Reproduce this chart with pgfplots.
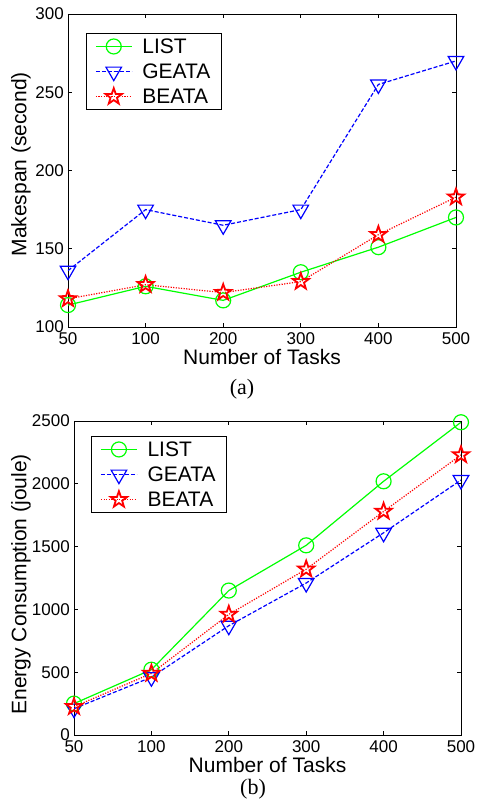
\documentclass[border=0pt]{standalone}
\usepackage{fontspec}
\setmainfont{Liberation Sans}
\newfontfamily\timesfont{Liberation Serif}
\usepackage{pgfplots}
\pgfplotsset{compat=1.18}

% MATLAB-like pentagram
\pgfdeclareplotmark{pentagram}{%
  \pgfpathmoveto{\pgfpointpolar{90}{\pgfplotmarksize}}%
  \pgfpathlineto{\pgfpointpolar{126}{0.4\pgfplotmarksize}}%
  \pgfpathlineto{\pgfpointpolar{162}{\pgfplotmarksize}}%
  \pgfpathlineto{\pgfpointpolar{198}{0.4\pgfplotmarksize}}%
  \pgfpathlineto{\pgfpointpolar{234}{\pgfplotmarksize}}%
  \pgfpathlineto{\pgfpointpolar{270}{0.4\pgfplotmarksize}}%
  \pgfpathlineto{\pgfpointpolar{306}{\pgfplotmarksize}}%
  \pgfpathlineto{\pgfpointpolar{342}{0.4\pgfplotmarksize}}%
  \pgfpathlineto{\pgfpointpolar{18}{\pgfplotmarksize}}%
  \pgfpathlineto{\pgfpointpolar{54}{0.4\pgfplotmarksize}}%
  \pgfpathclose
  \pgfusepathqstroke
}

\pgfplotsset{
  mstyle/.style={
    scale only axis,
    anchor=south west,
    xmin=0, xmax=5,
    xtick={0,1,2,3,4,5},
    xticklabels={50,100,200,300,400,500},
    tick align=inside,
    xtick pos=both, ytick pos=both,
    major tick length=4pt,
    axis line style={line width=0.8pt},
    every tick/.style={black, line width=0.6pt},
    /pgf/number format/assume math mode=true,
    /pgf/number format/1000 sep={},
    tick label style={font=\fontsize{17}{19}\selectfont},
    xticklabel style={anchor=north, inner sep=0pt, yshift=-5pt},
    yticklabel style={anchor=east, inner sep=0pt, xshift=-4pt},
    label style={font=\fontsize{21}{24}\selectfont},
    xlabel style={at={(axis description cs:0.5,0)}, anchor=north, inner sep=0pt, yshift=-22pt},
    legend cell align=left,
    legend style={font=\fontsize{21}{24}\selectfont, draw=black, line width=0.6pt,
      inner xsep=9pt, inner ysep=3pt, row sep=5pt,
      /tikz/every odd column/.append style={column sep=8pt}},
    legend image code/.code={%
      \draw[mark repeat=2, mark phase=2] plot coordinates {(0pt,0pt) (18pt,0pt) (36pt,0pt)};},
  },
  slist/.style={color=green, line width=1.2pt, mark=o, mark size=7.5pt, mark options={solid}},
  sgeata/.style={color=blue, line width=1.2pt, dash pattern=on 4pt off 2pt, mark=triangle,
    mark size=9pt, mark options={solid, rotate=180}},
  sbeata/.style={color=red, line width=1.2pt, dash pattern=on 1.2pt off 1.4pt, mark=pentagram,
    mark size=8.5pt, mark options={solid, line width=1.8pt}},
}

\begin{document}
\begin{tikzpicture}
\useasboundingbox (0,0) rectangle (477pt,807pt);

% (a) makespan
\begin{axis}[
  mstyle,
  at={(68pt,480pt)}, width=388pt, height=313pt,
  ymin=100, ymax=300,
  ytick={100,150,200,250,300},
  xlabel={Number of Tasks},
  ylabel={Makespan (second)},
  ylabel style={at={(axis description cs:-0.121,0.52)}, anchor=center},
  legend style={at={(axis description cs:0.046,0.939)}, anchor=north west},
]
\addplot[slist] coordinates {(0,114) (1,126) (2,117) (3,135) (4,151) (5,170)};
\addlegendentry{LIST}
\addplot[sgeata] coordinates {(0,136) (1,175) (2,165) (3,175) (4,255) (5,270)};
\addlegendentry{GEATA}
\addplot[sbeata] coordinates {(0,118) (1,127) (2,122) (3,129) (4,159) (5,183)};
\addlegendentry{BEATA}
\end{axis}
\node[font=\timesfont\fontsize{22}{24}\selectfont] at (242pt,418pt) {(a)};

% (b) energy
\begin{axis}[
  mstyle,
  at={(74pt,72pt)}, width=387pt, height=314pt,
  ymin=0, ymax=2500,
  ytick={0,500,1000,1500,2000,2500},
  xlabel={Number of Tasks},
  ylabel={Energy Consumption (joule)},
  ylabel style={at={(axis description cs:-0.137,0.48)}, anchor=center},
  legend style={at={(axis description cs:0.044,0.952)}, anchor=north west},
]
\addplot[slist] coordinates {(0,250) (1,520) (2,1150) (3,1510) (4,2020) (5,2490)};
\addlegendentry{LIST}
\addplot[sgeata] coordinates {(0,210) (1,460) (2,870) (3,1210) (4,1610) (5,2030)};
\addlegendentry{GEATA}
\addplot[sbeata] coordinates {(0,225) (1,490) (2,960) (3,1320) (4,1780) (5,2230)};
\addlegendentry{BEATA}
\end{axis}
\node[font=\timesfont\fontsize{22}{24}\selectfont] at (253pt,18pt) {(b)};
\end{tikzpicture}
\end{document}
